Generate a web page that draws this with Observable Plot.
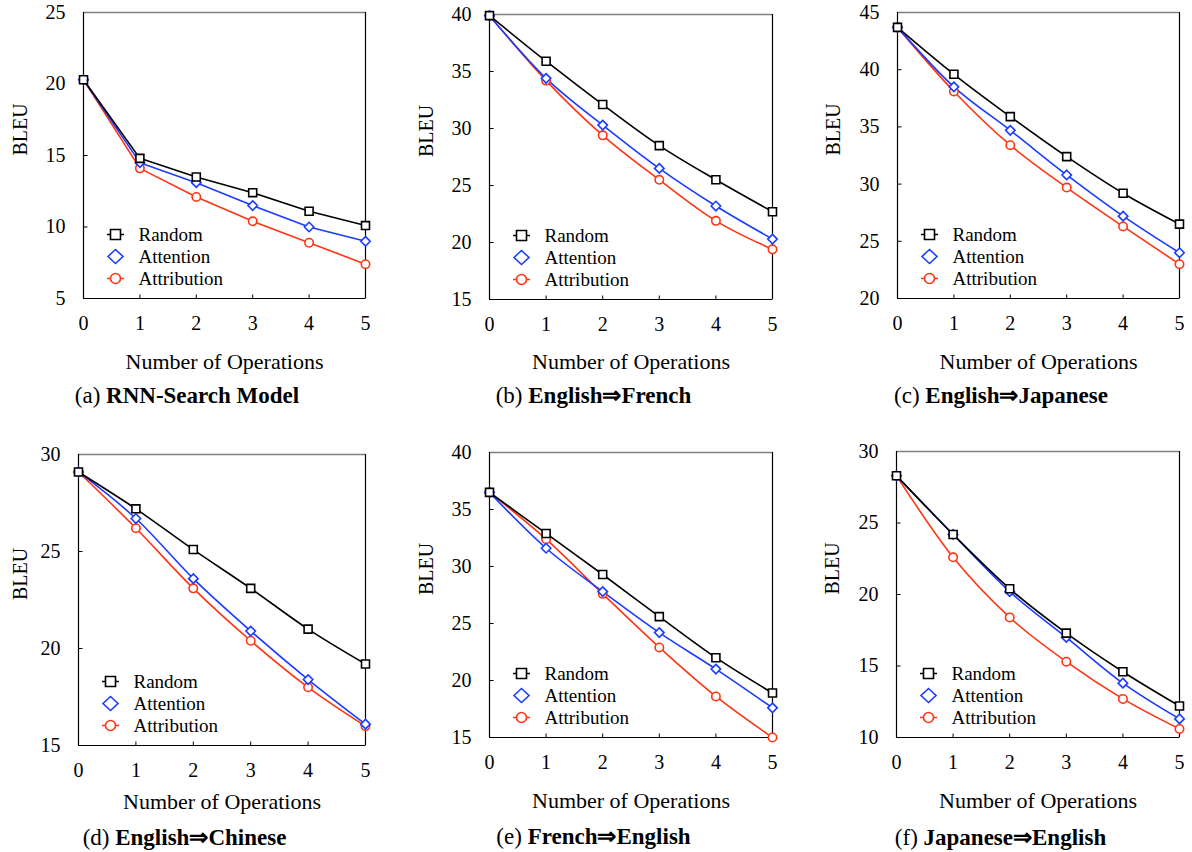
<!DOCTYPE html>
<html>
<head>
<meta charset="utf-8">
<script src="https://cdn.jsdelivr.net/npm/d3@7"></script>
<script src="https://cdn.jsdelivr.net/npm/@observablehq/plot@0.6"></script>
<style>
  html, body { margin: 0; padding: 0; background: #fff; }
  #root { position: relative; width: 1192px; height: 852px; overflow: hidden; font-family: "Liberation Serif", "Times New Roman", serif; }
  .panel { position: absolute; }
  .caption { position: absolute; width: 400px; text-align: center; font-size: 23px; line-height: 26px; color: #000; white-space: nowrap; font-family: "Liberation Serif", "Times New Roman", serif; }
  .caption b { font-weight: bold; font-family: "Liberation Serif", "Times New Roman", serif; }
</style>
</head>
<body>
<div id="root"></div>
<script>
// ---------- data ----------
const steps = [0, 1, 2, 3, 4, 5];
const seriesNames = ["Random", "Attention", "Attribution"];

const rnnRandom      = [20.3, 14.8, 13.5, 12.4, 11.1, 10.1];
const rnnAttention   = [20.3, 14.5, 13.1, 11.5, 10.0, 9.0];
const rnnAttribution = [20.3, 14.1, 12.1, 10.4, 8.9, 7.4];

const enfrRandom      = [39.9, 35.9, 32.1, 28.5, 25.5, 22.7];
const enfrAttention   = [39.9, 34.4, 30.3, 26.5, 23.2, 20.3];
const enfrAttribution = [39.9, 34.2, 29.4, 25.5, 21.9, 19.4];

const enjaRandom      = [43.7, 39.6, 35.9, 32.4, 29.2, 26.5];
const enjaAttention   = [43.7, 38.5, 34.7, 30.8, 27.2, 24.0];
const enjaAttribution = [43.7, 38.1, 33.4, 29.7, 26.3, 23.0];

const enzhRandom      = [29.1, 27.2, 25.1, 23.1, 21.0, 19.2];
const enzhAttention   = [29.1, 26.7, 23.6, 20.9, 18.4, 16.1];
const enzhAttribution = [29.1, 26.2, 23.1, 20.4, 18.0, 16.0];

const frenRandom      = [36.5, 32.9, 29.3, 25.6, 22.0, 18.9];
const frenAttention   = [36.5, 31.6, 27.8, 24.2, 21.0, 17.6];
const frenAttribution = [36.5, 32.4, 27.6, 22.9, 18.6, 15.0];

const jaenRandom      = [28.3, 24.2, 20.4, 17.3, 14.6, 12.2];
const jaenAttention   = [28.3, 24.2, 20.2, 17.0, 13.8, 11.3];
const jaenAttribution = [28.3, 22.6, 18.4, 15.3, 12.7, 10.6];

const rnnTicks  = [5, 10, 15, 20, 25];
const enfrTicks = [15, 20, 25, 30, 35, 40];
const enjaTicks = [20, 25, 30, 35, 40, 45];
const enzhTicks = [15, 20, 25, 30];
const frenTicks = [15, 20, 25, 30, 35, 40];
const jaenTicks = [10, 15, 20, 25, 30];

const captionLetters = ["(a)", "(b)", "(c)", "(d)", "(e)", "(f)"];
const captionTitles = ["RNN-Search Model", "English\u21D2French", "English\u21D2Japanese",
                       "English\u21D2Chinese", "French\u21D2English", "Japanese\u21D2English"];
const xLabel = "Number of Operations";
const yLabel = "BLEU";

// ---------- styles ----------
const SERIF = "Liberation Serif, Times New Roman, serif";
const colors = { Random: "#000000", Attention: "#1a3cff", Attribution: "#ff3412" };

// custom symbols
const sqSym = { draw(ctx, size) { const s = Math.sqrt(size) / 2; ctx.moveTo(-s, -s); ctx.lineTo(s, -s); ctx.lineTo(s, s); ctx.lineTo(-s, s); ctx.closePath(); } };
const diaSym = { draw(ctx, size) { const s = Math.sqrt(size) * 0.62; ctx.moveTo(0, -s); ctx.lineTo(s, 0); ctx.lineTo(0, s); ctx.lineTo(-s, 0); ctx.closePath(); } };
const legSq = { draw(ctx, size) { const s = 5; ctx.moveTo(-s, -s); ctx.lineTo(s, -s); ctx.lineTo(s, s); ctx.lineTo(-s, s); ctx.closePath(); ctx.moveTo(-s - 3.5, 0); ctx.lineTo(-s, 0); ctx.moveTo(s, 0); ctx.lineTo(s + 3.5, 0); } };
const legDia = { draw(ctx, size) { const w = 7.5, h = 7; ctx.moveTo(0, -h); ctx.lineTo(w, 0); ctx.lineTo(0, h); ctx.lineTo(-w, 0); ctx.closePath(); } };
const legCir = { draw(ctx, size) { const r = 5; ctx.moveTo(r, 0); ctx.arc(0, 0, r, 0, 2 * Math.PI); ctx.closePath(); ctx.moveTo(-r - 3.5, 0); ctx.lineTo(-r, 0); ctx.moveTo(r, 0); ctx.lineTo(r + 3.5, 0); } };
const tickUp = { draw(ctx) { ctx.moveTo(0, 0); ctx.lineTo(0, -4); } };
const tickRight = { draw(ctx) { ctx.moveTo(0, 0); ctx.lineTo(4, 0); } };

const symbols = { Random: sqSym, Attention: diaSym, Attribution: "circle" };
const legendSymbols = { Random: legSq, Attention: legDia, Attribution: legCir };
const symbolR = { Random: 4.5, Attention: 4.3, Attribution: 4.2 };

const panels = [
  { left: 0,   top: 0,   w: 400, h: 380, ml: 83,  mr: 35, mt: 12, fb: 298, yt: rnnTicks,  vals: [rnnRandom, rnnAttention, rnnAttribution], xl: 63, yl: 63, capY: 383, curve: "linear" },
  { left: 400, top: 0,   w: 400, h: 380, ml: 89,  mr: 28, mt: 14, fb: 299, yt: enfrTicks, vals: [enfrRandom, enfrAttention, enfrAttribution], xl: 62, yl: 63, capY: 383, curve: "monotone-x" },
  { left: 795, top: 0,   w: 397, h: 380, ml: 102, mr: 13, mt: 12, fb: 298, yt: enjaTicks, vals: [enjaRandom, enjaAttention, enjaAttribution], xl: 63, yl: 64, capY: 383, curve: "monotone-x" },
  { left: 0,   top: 430, w: 400, h: 380, ml: 78,  mr: 35, mt: 24, fb: 315, yt: enzhTicks, vals: [enzhRandom, enzhAttention, enzhAttribution], xl: 56, yl: 58, capY: 825, curve: "monotone-x" },
  { left: 400, top: 430, w: 400, h: 380, ml: 89,  mr: 28, mt: 22, fb: 307, yt: frenTicks, vals: [frenRandom, frenAttention, frenAttribution], xl: 63, yl: 63, capY: 824, curve: "monotone-x" },
  { left: 795, top: 430, w: 397, h: 380, ml: 101, mr: 13, mt: 21, fb: 307, yt: jaenTicks, vals: [jaenRandom, jaenAttention, jaenAttribution], xl: 63, yl: 64, capY: 825, curve: "monotone-x" }
];

const root = document.getElementById("root");

panels.forEach((p, i) => {
  const ymin = p.yt[0], ymax = p.yt[p.yt.length - 1];
  const xmin = steps[0], xmax = steps[steps.length - 1];
  const rows = [];
  seriesNames.forEach((s, k) => steps.forEach((x, j) => rows.push({ series: s, x, y: p.vals[k][j] })));
  const drawOrder = ["Attribution", "Attention", "Random"];
  const marks = [
    Plot.axisX(steps, { tickSize: 0, tickPadding: 17, label: null, fontSize: 20, fontFamily: SERIF, fill: "#000" }),
    Plot.axisY(p.yt, { tickSize: 0, tickPadding: 18, label: null, fontSize: 20, fontFamily: SERIF, fill: "#000" }),
    Plot.dot(steps, { x: d => d, y: () => ymin, symbol: tickUp, r: 3, stroke: "#000", strokeWidth: 1 }),
    Plot.dot(p.yt, { x: () => xmin, y: d => d, symbol: tickRight, r: 3, stroke: "#000", strokeWidth: 1 }),
    Plot.ruleY([ymax], { stroke: "#808080", strokeWidth: 1.5 }),
    Plot.ruleY([ymin], { stroke: "#000", strokeWidth: 1.2 }),
    Plot.ruleX([xmin, xmax], { stroke: "#000", strokeWidth: 1.2 })
  ];
  drawOrder.forEach(s => {
    const data = rows.filter(r => r.series === s);
    marks.push(Plot.line(data, { x: "x", y: "y", stroke: colors[s], strokeWidth: 1.6, curve: p.curve }));
  });
  drawOrder.forEach(s => {
    const data = rows.filter(r => r.series === s);
    marks.push(Plot.dot(data, { x: "x", y: "y", symbol: symbols[s], r: symbolR[s], stroke: colors[s], fill: "#fff", strokeWidth: 1.6 }));
  });
  // legend
  const rowOffsets = [-64, -42, -20];
  seriesNames.forEach((s, k) => {
    marks.push(Plot.dot([s], { frameAnchor: "bottom-left", dx: 32, dy: rowOffsets[k], symbol: legendSymbols[s], r: 5, stroke: colors[s], fill: "#fff", strokeWidth: 1.6 }));
    marks.push(Plot.text([s], { text: d => d, frameAnchor: "bottom-left", dx: 55, dy: rowOffsets[k], textAnchor: "start", lineAnchor: "middle", fontSize: 19, fontFamily: SERIF, fill: "#000" }));
  });
  marks.push(Plot.text([xLabel], { text: d => d, frameAnchor: "bottom", dy: p.xl, lineAnchor: "middle", fontSize: 22, fontFamily: SERIF, fill: "#000" }));
  marks.push(Plot.text([yLabel], { text: d => d, frameAnchor: "left", dx: -p.yl, rotate: -90, lineAnchor: "middle", fontSize: 20, fontFamily: SERIF, fill: "#000" }));

  const chart = Plot.plot({
    width: p.w,
    height: p.h,
    marginLeft: p.ml,
    marginRight: p.mr,
    marginTop: p.mt,
    marginBottom: p.h - p.fb,
    x: { domain: [xmin, xmax] },
    y: { domain: [ymin, ymax] },
    style: { fontFamily: SERIF, fontSize: "20px", color: "#000", background: "transparent", overflow: "visible" },
    marks
  });
  const div = document.createElement("div");
  div.className = "panel";
  div.style.left = p.left + "px";
  div.style.top = p.top + "px";
  div.appendChild(chart);
  root.appendChild(div);

  const cap = document.createElement("div");
  cap.className = "caption";
  const center = p.left + (p.ml + (p.w - p.mr)) / 2 - 37;
  cap.style.left = (center - 200) + "px";
  cap.style.top = p.capY + "px";
  cap.innerHTML = captionLetters[i] + " <b>" + captionTitles[i] + "</b>";
  root.appendChild(cap);
});
</script>
</body>
</html>
